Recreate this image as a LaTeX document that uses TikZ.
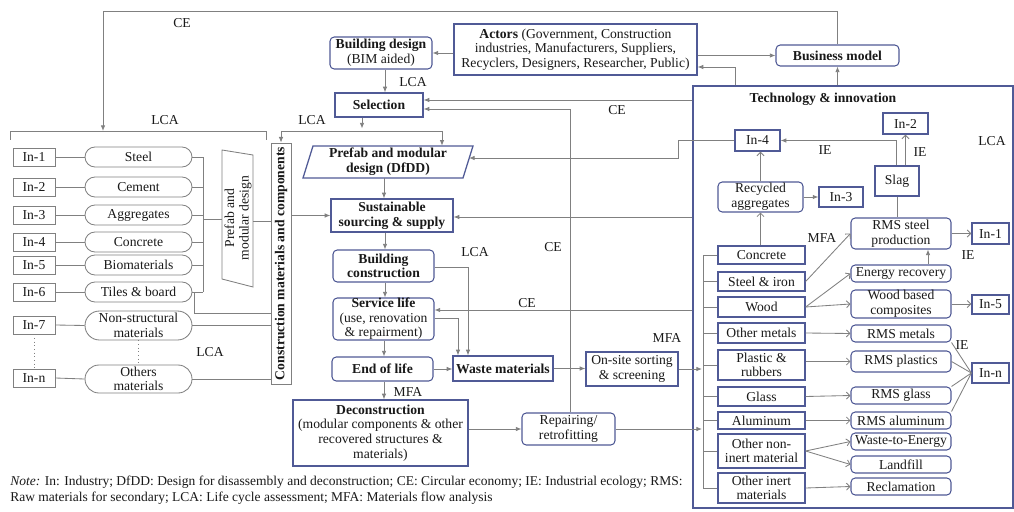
\documentclass[tikz,border=0pt]{standalone}
\usepackage{fontspec}
\setmainfont{Liberation Serif}
\usetikzlibrary{arrows.meta,shapes.misc,calc}
\definecolor{bblue}{RGB}{80,90,150}
\definecolor{lgray}{RGB}{128,128,128}
\definecolor{tcol}{RGB}{25,25,25}
\newcommand\fs{\fontsize{9.7}{10.4}\selectfont}
\newcommand\footfs{\fontsize{9.6}{11}\selectfont}
\newcommand\BX[7]{\node[#2, minimum width={(#5-#3)*0.025cm}, minimum height={(#6-#4)*0.025cm}] (#1) at ({(#3+#5)/2},{(#4+#6)/2}) {#7};}
\tikzset{
  base/.style={inner sep=0pt, align=center, text=tcol, font=\fs},
  bbox/.style={base, draw=bblue, line width=0.9pt},
  rbox/.style={base, draw=bblue, line width=0.75pt, rounded corners=3pt},
  gbox/.style={base, draw=lgray, line width=0.6pt},
  oval/.style={base, draw=lgray, line width=0.6pt, rounded rectangle},
  lbl/.style={text=tcol, font=\fs, inner sep=0pt},
  ln/.style={draw=lgray, line width=0.6pt},
  arr/.style={ln, -{Latex[length=4pt,width=3.2pt]}},
  oarr/.style={ln, -{Straight Barb[length=2.5pt,width=5pt]}},
}
\begin{document}
\begin{tikzpicture}[x=0.025cm,y=-0.025cm]
\fill[white] (0,0) rectangle (1014,512);
\useasboundingbox (0,0) rectangle (1014,512);

% ---------- left panel ----------
\BX{in1}{gbox}{13}{148}{55}{166}{In-1}
\BX{in2}{gbox}{13}{178}{55}{196}{In-2}
\BX{in3}{gbox}{13}{206}{55}{224}{In-3}
\BX{in4}{gbox}{13}{233}{55}{251}{In-4}
\BX{in5}{gbox}{13}{256}{55}{274}{In-5}
\BX{in6}{gbox}{13}{283}{55}{301}{In-6}
\BX{in7}{gbox}{13}{316}{55}{334}{In-7}
\BX{inn}{gbox}{13}{369}{55}{387}{In-n}
\BX{o1}{oval}{85}{147}{192}{167}{Steel}
\BX{o2}{oval}{85}{177}{192}{197}{Cement}
\BX{o3}{oval}{85}{205}{192}{225}{Aggregates}
\BX{o4}{oval}{85}{232}{192}{252}{Concrete}
\BX{o5}{oval}{85}{255}{192}{275}{Biomaterials}
\BX{o6}{oval}{85}{282}{192}{302}{Tiles \& board}
\BX{o7}{oval}{85}{311}{192}{340}{Non-structural\\materials}
\BX{o8}{oval}{85}{365}{192}{393}{Others\\materials}
\foreach \i in {1,...,7}{\draw[ln] (in\i.east) -- (o\i.west);}
\draw[ln] (inn.east) -- (o8.west);
\draw[ln] (o1.east) -| (o6.east -| 203,0);
\foreach \i in {2,...,6}{\draw[ln] (o\i.east) -- (o\i.east -| 203,0);}
\draw[ln,dotted] (in7.south) -- (inn.north);
\draw[ln,dotted] (o7.south) -- (o8.north);

\draw[ln] (222,150) -- (253,155) -- (253,287) -- (222,279) -- cycle;
\node[lbl, rotate=90, align=center] (tz) at (238,218) {Prefab and\\modular design};
\coordinate (tzL) at (222,219);
\coordinate (tzR) at (253,221);

\BX{cm}{gbox}{271}{143}{291}{384}{}
\node[lbl, rotate=90, font=\fs\bfseries] (cmt) at (cm) {Construction materials and components};

\draw[ln] (tzL -| 203,0) -- (tzL);
\draw[ln] (tzR) -- (cm.west |- tzR);
\draw[ln] (o6.east -| 194,0) |- (cm.west |- 0,313);
\draw[ln] (o7.east) -- (cm.west |- o7.east);
\draw[ln] (o8.east) -- (cm.west |- o8.east);

\draw[ln] (10,140) -- (10,131) -- (266,131) -- (266,140);

% ---------- main flow ----------
\BX{bd}{rbox}{330}{37}{432}{69}{\textbf{Building design}\\(BIM aided)}
\BX{act}{bbox}{454}{24}{697}{75}{\textbf{Actors} (Government, Construction\\industries, Manufacturers, Suppliers,\\Recyclers, Designers, Researcher, Public)}
\BX{bm}{rbox}{776}{45}{899}{66}{\textbf{Business model}}
\BX{sel}{bbox}{335}{93}{423}{117}{\textbf{Selection}}
\draw[bblue, line width=0.9pt] (313,146) -- (473,146) -- (463,178) -- (303,178) -- cycle;
\BX{pf}{base}{303}{146}{473}{178}{\textbf{Prefab and modular}\\\textbf{design (DfDD)}}
\BX{ss}{bbox}{331}{199}{453}{232}{\textbf{Sustainable}\\\textbf{sourcing \& supply}}
\BX{bc}{rbox}{333}{250}{434}{282}{\textbf{Building}\\\textbf{construction}}
\BX{sl}{rbox}{333}{298}{434}{340}{\textbf{Service life}\\(use, renovation\\\& repairment)}
\BX{eol}{rbox}{332}{357}{433}{381}{\textbf{End of life}}
\BX{wm}{bbox}{453}{356}{553}{381}{\textbf{Waste materials}}
\BX{os}{bbox}{586}{352}{678}{386}{On-site sorting\\\& screening}
\BX{dc}{bbox}{293}{400}{468}{466}{\textbf{Deconstruction}\\(modular components \& other\\recovered structures \&\\materials)}
\BX{rp}{rbox}{522}{413}{615}{445}{Repairing/\\retrofitting}
\BX{tech}{bbox}{693}{86}{1013}{508}{}

% top connectors
\draw[arr] (act.west |- bd.east) -- (bd.east);
\draw[arr] (act.east |- bm.west) -- (bm.west);
\draw[arr] (tech.north -| 735,0) |- (act.east |- 0,67);
\draw[arr] (tech.north -| bm.south) -- (bm.south);
\coordinate (ceL) at (103,131);
\draw[arr] (bm.north) |- (ceL |- 0,11) -- (ceL);
\draw[arr] (bd.south -| 385,0) -- (sel.north -| 385,0);
\draw[arr] (tech.west |- 0,100) -- (sel.east |- 0,100);
\draw[arr] (rp.north -| 570,0) |- (sel.east |- 0,109);
\draw[arr] (sel.south -| 362,0) -- (362,128.5);
\draw[ln] (cm.north |- 0,131) -- (442,131);
\draw[arr] (cm.north |- 0,131) -- (cm.north);
\draw[arr] (442,131) -- (pf.north -| 442,0);

% vertical chain
\draw[arr] (pf.south -| 384,0) -- (ss.north -| 384,0);
\draw[arr] (ss.south -| 385,0) -- (bc.north -| 385,0);
\draw[arr] (bc.south -| 385,0) -- (sl.north -| 385,0);
\draw[arr] (sl.south -| 384,0) -- (eol.north -| 384,0);
\draw[arr] (eol.south -| 384,0) -- (dc.north -| 384,0);

\draw[arr] (cm.east |- ss.west) -- (ss.west);
\draw[arr] (tech.west |- 0,217) -- (ss.east |- 0,217);
\draw[arr] (bc.east |- 0,267) -| (wm.north -| 468,0);
\draw[arr] (sl.east |- 0,318) -| (wm.north -| 458,0);
\draw[arr] (tech.west |- 0,310) -- (sl.east |- 0,310);
\draw[arr] (eol.east) -- (wm.west |- eol.east);
\draw[arr] (wm.east) -- (os.west |- wm.east);
\draw[arr] (dc.east |- rp.west) -- (rp.west);
\draw[arr] (os.east) -- (os.east -| 702,0);
\draw[arr] (rp.east) -- (rp.east -| 702,0);

% ---------- technology & innovation ----------
\node[lbl, font=\fs\bfseries] (tt) at (823,99) {Technology \& innovation};
\BX{con}{bbox}{718}{246}{805}{264}{Concrete}
\BX{sti}{bbox}{718}{272}{805}{291}{Steel \& iron}
\BX{wood}{bbox}{718}{297}{805}{317}{Wood}
\BX{om}{bbox}{718}{323}{805}{343}{Other metals}
\BX{pr}{bbox}{718}{350}{805}{380}{Plastic \&\\rubbers}
\BX{gl}{bbox}{718}{387}{805}{406}{Glass}
\BX{al}{bbox}{718}{412}{805}{429}{Aluminum}
\BX{oni}{bbox}{718}{434}{805}{468}{Other non-\\inert material}
\BX{oi}{bbox}{718}{473}{805}{503}{Other inert\\materials}
\draw[ln] (con.west -| 703,0) -- (oi.west -| 703,0);
\foreach \m in {con,sti,wood,om,pr,gl,al,oni,oi}{\draw[ln] (\m.west -| 703,0) -- (\m.west);}

\BX{rms}{rbox}{851}{218}{951}{249}{RMS steel\\production}
\BX{er}{rbox}{851}{265}{951}{282}{Energy recovery}
\BX{wbc}{rbox}{851}{290}{951}{318}{Wood based\\composites}
\BX{rmet}{rbox}{851}{325}{951}{342}{RMS metals}
\BX{rpl}{rbox}{851}{351}{951}{372}{RMS plastics}
\BX{rgl}{rbox}{851}{387}{951}{404}{RMS glass}
\BX{ral}{rbox}{851}{412}{951}{429}{RMS aluminum}
\BX{wte}{rbox}{851}{433}{951}{450}{Waste-to-Energy}
\BX{lf}{rbox}{851}{456}{951}{473}{Landfill}
\BX{rec}{rbox}{851}{478}{951}{495}{Reclamation}

\BX{ti1}{bbox}{972}{223}{1009}{244}{In-1}
\BX{ti5}{bbox}{972}{295}{1009}{314}{In-5}
\BX{tin}{bbox}{972}{363}{1009}{383}{In-n}
\BX{ra}{rbox}{718}{182}{803}{212}{Recycled\\aggregates}
\BX{ti4}{bbox}{735}{130}{780}{151}{In-4}
\BX{ti3}{bbox}{819}{187}{863}{207}{In-3}
\BX{slag}{bbox}{875}{166}{919}{196}{Slag}
\BX{ti2}{bbox}{883}{113}{928}{134}{In-2}

\draw[oarr] (con.north -| ra.south) -- (ra.south);
\draw[oarr] (ra.north) -- (ra.north |- ti4.south);
\draw[arr] (ra.east) -- (ti3.west |- ra.east);
\draw[oarr] (ti2.south |- slag.north) -- (ti2.south);
\draw[arr] (slag.north -| 896,0) |- (ti4.east);
\draw[arr] (ti4.west) -- (678,140.5) -- (678,158) -- (469,158);
\draw[ln] (slag.south) -- (slag.south |- rms.north);
\draw[oarr] (rms.east) -- (ti1.west |- rms.east);
\draw[arr] (er.north -| 928,0) -- (rms.south -| 928,0);
\draw[oarr] (sti.east) -- (rms.west);
\draw[oarr] (wood.east) -- (er.west);
\draw[oarr] (wood.east) -- (wbc.west);
\draw[oarr] (om.east) -- (rmet.west);
\draw[oarr] (pr.east |- rpl.west) -- (rpl.west);
\draw[oarr] (gl.east) -- (rgl.west);
\draw[oarr] (al.east) -- (ral.west);
\draw[oarr] (oni.east) -- (wte.west);
\draw[oarr] (oni.east) -- (lf.west);
\draw[oarr] (oi.east) -- (rec.west);
\draw[oarr] (wbc.east) -- (ti5.west |- wbc.east);
\draw[ln] (rmet.south east) -- (tin.west);
\draw[ln] (rpl.east) -- (tin.west);
\draw[ln] (rgl.north east) -- (tin.west);
\draw[ln] (ral.north east) -- (tin.west);

% ---------- labels ----------
\node[lbl] (l1) at (182,23) {CE};
\node[lbl] (l2) at (165,120) {LCA};
\node[lbl] (l3) at (312,120) {LCA};
\node[lbl] (l4) at (413,82) {LCA};
\node[lbl] (l5) at (617,110) {CE};
\node[lbl] (l6) at (210,352) {LCA};
\node[lbl] (l7) at (475,252) {LCA};
\node[lbl] (l8) at (553,247) {CE};
\node[lbl] (l9) at (527,303) {CE};
\node[lbl] (l10) at (667,338) {MFA};
\node[lbl] (l11) at (408,392) {MFA};
\node[lbl] (l12) at (822,238) {MFA};
\node[lbl] (l13) at (825,150) {IE};
\node[lbl] (l14) at (920,152) {IE};
\node[lbl] (l15) at (968,255) {IE};
\node[lbl] (l16) at (962,345) {IE};
\node[lbl] (l17) at (992,141) {LCA};

\node[lbl, font=\footfs, anchor=base west] (n1) at (10,485) {\textit{Note:} In: Industry; DfDD: Design for disassembly and deconstruction; CE: Circular economy; IE: Industrial ecology; RMS:};
\node[lbl, font=\footfs, anchor=base west] (n2) at (10,501) {Raw materials for secondary; LCA: Life cycle assessment; MFA: Materials flow analysis};
\end{tikzpicture}
\end{document}
